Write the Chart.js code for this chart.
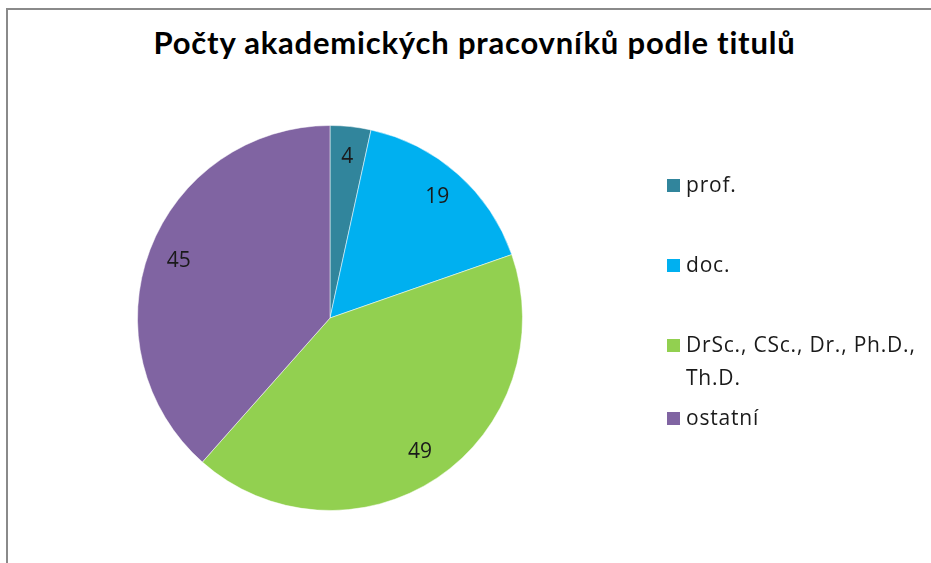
<!DOCTYPE html>
<html>
<head>
<meta charset="utf-8">
<script src="https://cdn.jsdelivr.net/npm/chart.js@4/dist/chart.umd.min.js"></script>
<style>
  html, body { margin: 0; padding: 0; background: #fff; overflow: hidden; }
  #wrap { position: relative; width: 931px; height: 563px; }
  #frame { position: absolute; left: 6px; top: 8px; right: -10px; bottom: -10px;
           border-top: 2px solid #8a8a8a; border-left: 2px solid #8a8a8a; }
  #title { position: absolute; left: 0; width: 949px; top: 23px; text-align: center; line-height: 40px;
           font: bold 31px Lato, sans-serif; letter-spacing: 0.8px; color: #000; }
  #chart { position: absolute; left: 0; top: 0; }
  #legend { position: absolute; left: 666px; top: 0; font: 21px "Open Sans", sans-serif; color: #1a1a1a; }
  .item { position: absolute; left: 0; width: 265px; line-height: 33px; padding-left: 20px; white-space: nowrap; letter-spacing: 0.8px; }
  .box { position: absolute; left: 1px; top: 11px; width: 13px; height: 13px; }
</style>
</head>
<body>
<div id="wrap">
  <div id="frame"></div>
  <div id="title">Počty akademických pracovníků podle titulů</div>
  <canvas id="chart" width="931" height="563"></canvas>
  <div id="legend"></div>
</div>
<script>
/* data */
var labels = ['prof.', 'doc.', 'DrSc., CSc., Dr., Ph.D., Th.D.', 'ostatní'];
var counts = [4, 19, 49, 45];
var colors = ['#31859C', '#00B0F0', '#92D050', '#8064A2'];
/* legend lines (the long one wraps in the reference) */
var legendLines = [['prof.'], ['doc.'], ['DrSc., CSc., Dr., Ph.D.,', 'Th.D.'], ['ostatní']];
var legendTops = [168, 248, 328, 401];

/* numbers drawn inside slices */
var sliceLabels = {
    id: 'sliceLabels',
    afterDatasetsDraw: function(chart) {
	var ctx = chart.ctx;
	var meta = chart.getDatasetMeta(0);
	ctx.save();
	ctx.font = '21px "Open Sans", sans-serif';
	ctx.fillStyle = '#1a1a1a';
	ctx.textAlign = 'center';
	ctx.textBaseline = 'middle';
	meta.data.forEach(function(arc, i) {
	    var p = arc.getProps(['x', 'y', 'startAngle', 'endAngle', 'outerRadius']);
	    var mid = (p.startAngle + p.endAngle) / 2;
	    var r = p.outerRadius * 0.84;
	    ctx.fillText(String(counts[i]), p.x + Math.cos(mid) * r, p.y + Math.sin(mid) * r);
	});
	ctx.restore();
    }
};

var chart = new Chart(document.getElementById('chart'), {
    type: 'pie',
    data: {
	labels: labels,
	datasets: [{
	    data: counts,
	    backgroundColor: colors,
	    borderColor: 'rgba(255,255,255,0.5)',
	    borderWidth: 1
	}]
    },
    options: {
	responsive: false,
	animation: false,
	layout: { padding: { left: 137, top: 125, right: 408, bottom: 52 } },
	plugins: {
	    legend: { display: false },
	    tooltip: { enabled: false }
	}
    },
    plugins: [sliceLabels]
});

/* html legend so the long entry can wrap like the original */
var legend = document.getElementById('legend');
legendLines.forEach(function(lines, i) {
    var item = document.createElement('div');
    item.className = 'item';
    item.style.top = legendTops[i] + 'px';
    item.innerHTML = '<span class="box" style="background:' + colors[i] + '"></span>' + lines.join('<br>');
    legend.appendChild(item);
});
</script>
</body>
</html>
